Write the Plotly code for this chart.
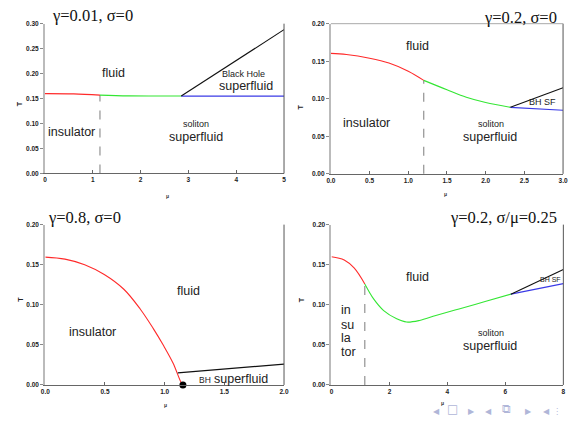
import plotly.graph_objects as go

# ---------------- data ----------------
# Panel 1: gamma=0.01, sigma=0
p1_red_mu = [0.0, 0.6, 1.15]
p1_red_T = [0.160, 0.1595, 0.157]
p1_green_mu = [1.15, 1.75, 2.85]
p1_green_T = [0.157, 0.1555, 0.1553]
p1_blue_mu = [2.85, 5.0]
p1_blue_T = [0.155, 0.155]
p1_black_mu = [2.85, 5.0]
p1_black_T = [0.155, 0.288]
p1_dash_mu = [1.15, 1.15]
p1_dash_T = [0.0, 0.157]

# Panel 2: gamma=0.2, sigma=0
p2_red_mu = [0.0, 0.2, 0.5, 0.75, 1.0, 1.2]
p2_red_T = [0.1605, 0.159, 0.154, 0.1476, 0.1367, 0.1245]
p2_green_mu = [1.2, 1.5, 1.75, 2.0, 2.32]
p2_green_T = [0.1245, 0.112, 0.102, 0.095, 0.0886]
p2_blue_mu = [2.32, 3.0]
p2_blue_T = [0.0886, 0.0847]
p2_black_mu = [2.32, 3.0]
p2_black_T = [0.0886, 0.1148]
p2_dash_mu = [1.2, 1.2]
p2_dash_T = [0.0, 0.1245]

# Panel 3: gamma=0.8, sigma=0
p3_red_mu = [0.0, 0.165, 0.33, 0.494, 0.658, 0.795, 0.905, 0.988, 1.07, 1.138, 1.153]
p3_red_T = [0.1595, 0.157, 0.150, 0.1378, 0.1194, 0.0948, 0.0703, 0.0498, 0.0274, 0.003, 0.0]
p3_black_mu = [1.11, 2.0]
p3_black_T = [0.0151, 0.026]
p3_dot_mu = [1.153]
p3_dot_T = [0.0]

# Panel 4: gamma=0.2, sigma/mu=0.25
p4_red_mu = [0.0, 0.44, 0.78, 1.15]
p4_red_T = [0.1600, 0.156, 0.146, 0.126]
p4_green_mu = [1.15, 1.46, 1.80, 2.25, 2.59, 3.04, 3.6, 4.4, 5.3, 6.19]
p4_green_T = [0.126, 0.107, 0.0928, 0.0826, 0.0785, 0.0805, 0.0866, 0.0948, 0.104, 0.1133]
p4_blue_mu = [6.19, 8.0]
p4_blue_T = [0.1133, 0.1264]
p4_black_mu = [6.19, 8.0]
p4_black_T = [0.1133, 0.144]
p4_dash_mu = [1.15, 1.15]
p4_dash_T = [0.0, 0.126]

# tick labels
p1_xticks = [0, 1, 2, 3, 4, 5]
p1_yticks = [0.00, 0.05, 0.10, 0.15, 0.20, 0.25, 0.30]
p2_xticks = [0.0, 0.5, 1.0, 1.5, 2.0, 2.5, 3.0]
p3_xticks = [0.0, 0.5, 1.0, 1.5, 2.0]
p4_xticks = [0, 2, 4, 6, 8]
p234_yticks = [0.00, 0.05, 0.10, 0.15, 0.20]

titles = ["γ=0.01, σ=0", "γ=0.2, σ=0", "γ=0.8, σ=0", "γ=0.2, σ/μ=0.25"]

RED = "#ff2a2a"
GREEN = "#33e633"
BLUE = "#3a3ae6"
BLACK = "#111111"
DASH = "#888888"

fig = go.Figure()

def line(ax, xs, ys, color, dash=None, shape="spline", width=1.1):
    fig.add_trace(go.Scatter(x=xs, y=ys, mode="lines", xaxis="x" + ax, yaxis="y" + ax,
                             line=dict(color=color, width=width, dash=dash, shape=shape),
                             showlegend=False, hoverinfo="skip"))

# panel 1
line("", p1_dash_mu, p1_dash_T, DASH, dash="dash", shape="linear")
line("", p1_red_mu, p1_red_T, RED)
line("", p1_green_mu, p1_green_T, GREEN)
line("", p1_blue_mu, p1_blue_T, BLUE, shape="linear")
line("", p1_black_mu, p1_black_T, BLACK, shape="linear")
# panel 2
line("2", p2_dash_mu, p2_dash_T, DASH, dash="dash", shape="linear")
line("2", p2_red_mu, p2_red_T, RED)
line("2", p2_green_mu, p2_green_T, GREEN)
line("2", p2_blue_mu, p2_blue_T, BLUE, shape="linear")
line("2", p2_black_mu, p2_black_T, BLACK, shape="linear")
# panel 3
line("3", p3_red_mu, p3_red_T, RED)
line("3", p3_black_mu, p3_black_T, BLACK, shape="linear")
fig.add_trace(go.Scatter(x=p3_dot_mu, y=p3_dot_T, mode="markers", xaxis="x3", yaxis="y3",
                         marker=dict(color="black", size=7), showlegend=False,
                         hoverinfo="skip", cliponaxis=False))
# panel 4
line("4", p4_dash_mu, p4_dash_T, DASH, dash="dash", shape="linear")
line("4", p4_red_mu, p4_red_T, RED)
line("4", p4_green_mu, p4_green_T, GREEN)
line("4", p4_blue_mu, p4_blue_T, BLUE, shape="linear")
line("4", p4_black_mu, p4_black_T, BLACK, shape="linear")

W, H = 571, 428
def px(x):
    return x / W
def py(y):
    return 1 - y / H

tickfont = dict(family="Liberation Sans", size=6.5, color="#222", weight="bold")

def xaxis(dom, rng, ticks, fmt, anchor):
    return dict(domain=dom, range=rng, tickvals=ticks, ticktext=[fmt.format(t) for t in ticks],
                showgrid=False, zeroline=False, showline=True, linecolor="#666", linewidth=1,
                ticks="inside", ticklen=3, tickcolor="#666", tickfont=tickfont, anchor=anchor,
                fixedrange=True)

def yaxis(dom, rng, ticks, anchor):
    return dict(domain=dom, range=rng, tickvals=ticks, ticktext=["{:.2f}".format(t) for t in ticks],
                showgrid=False, zeroline=False, showline=True, linecolor="#bbbbbb", linewidth=2,
                ticks="outside", ticklen=3, tickcolor="#888", tickfont=tickfont, anchor=anchor,
                fixedrange=True)

d1x = [px(40.7), px(284)]
d1y = [py(172.3), py(20)]
d2x = [px(331.7), px(568)]
d2y = [py(172.7), py(20)]
d3x = [px(41), px(284)]
d3y = [py(387.3), py(224.3)]
d4x = [px(332.3), px(568.3)]
d4y = [py(387.3), py(224.3)]

fig.update_layout(
    width=W, height=H, margin=dict(l=0, r=0, t=0, b=0),
    paper_bgcolor="white", plot_bgcolor="white",
    xaxis=xaxis(d1x, [0, 5], p1_xticks, "{:d}", "y"),
    yaxis=yaxis(d1y, [0, 0.30], p1_yticks, "x"),
    xaxis2=xaxis(d2x, [0, 3], p2_xticks, "{:.1f}", "y2"),
    yaxis2=yaxis(d2y, [0, 0.20], p234_yticks, "x2"),
    xaxis3=xaxis(d3x, [0, 2], p3_xticks, "{:.1f}", "y3"),
    yaxis3=yaxis(d3y, [0, 0.20], p234_yticks, "x3"),
    xaxis4=xaxis(d4x, [0, 8], p4_xticks, "{:d}", "y4"),
    yaxis4=yaxis(d4y, [0, 0.20], p234_yticks, "x4"),
)

shapes = []
for dx, dy in [(d1x, d1y), (d2x, d2y), (d3x, d3y), (d4x, d4y)]:
    shapes.append(dict(type="line", xref="paper", yref="paper", x0=dx[1], x1=dx[1], y0=dy[0], y1=dy[1],
                       line=dict(color="#555", width=1)))
# light top frame on panel 2
shapes.append(dict(type="line", xref="paper", yref="paper", x0=d2x[0], x1=d2x[1], y0=d2y[1], y1=d2y[1],
                   line=dict(color="#aaaaaa", width=1)))
fig.update_layout(shapes=shapes)

ann = []
def text(x, y, s, size, family="Liberation Sans", color="#222", xanchor="center", **kw):
    ann.append(dict(x=px(x), y=py(y), xref="paper", yref="paper", text=s, showarrow=False,
                    xanchor=xanchor, yanchor="middle", font=dict(family=family, size=size, color=color), **kw))

# titles
serif = "Liberation Serif"
text(46, 12, titles[0], 16.5, family=serif, color="#111", xanchor="left")
text(564, 14, titles[1], 16.5, family=serif, color="#111", xanchor="right")
text(42, 217, titles[2], 16.5, family=serif, color="#111", xanchor="left")
text(564, 217, titles[3], 16.5, family=serif, color="#111", xanchor="right")

# region labels panel 1
text(110, 70, "fluid", 12.5)
text(243, 71, "Black Hole", 9)
text(245, 83, "superfluid", 12.5)
text(68, 130, "insulator", 12.5)
text(194, 122, "soliton", 9)
text(194, 135, "superfluid", 12.5)
# panel 2
text(420, 43, "fluid", 12.5)
text(547, 100, "BH SF", 9)
text(368, 121, "insulator", 12.5)
text(495, 122, "soliton", 9)
text(494, 135, "superfluid", 12.5)
# panel 3
text(187, 292, "fluid", 12.5)
text(89, 333, "insulator", 12.5)
text(204, 382, "BH", 8.5)
text(240, 381, "superfluid", 12.5)
# panel 4
text(420, 278, "fluid", 12.5)
text(340, 311, "in", 12.5, xanchor="left")
text(340, 326, "su", 12.5, xanchor="left")
text(340, 340, "la", 12.5, xanchor="left")
text(340, 354, "tor", 12.5, xanchor="left")
text(555, 280, "BH SF", 7)
text(495, 334, "soliton", 9)
text(494, 348, "superfluid", 12.5)

# axis titles
for (x, y) in [(162, 195), (452, 193), (160, 413), (449, 411)]:
    ann.append(dict(x=px(x), y=py(y), xref="paper", yref="paper", text="μ", showarrow=False,
                    font=dict(family="Liberation Sans", size=5, color="#333", weight="bold")))
for (x, y) in [(10, 97), (301, 100), (10, 305), (302, 305)]:
    ann.append(dict(x=px(x), y=py(y), xref="paper", yref="paper", text="T", showarrow=False, textangle=-90,
                    font=dict(family="Liberation Sans", size=7, color="#222", weight="bold")))

# beamer navigation symbols
nav = [(445, "◀"), (463, "□"), (480, "▶"), (498, "◀"), (517, "⧉"), (538, "▶"), (557, "◀"), (568, "⋮")]
for x, s in nav:
    ann.append(dict(x=px(x), y=py(421), xref="paper", yref="paper", text=s, showarrow=False,
                    font=dict(family="DejaVu Sans", size=12 if s in "□⧉" else 8, color="#b0b6d8")))

fig.update_layout(annotations=ann)
fig.write_html("out.html", config={"displayModeBar": False},
               post_script="document.body.style.margin='0px';document.body.style.overflow='hidden';")
